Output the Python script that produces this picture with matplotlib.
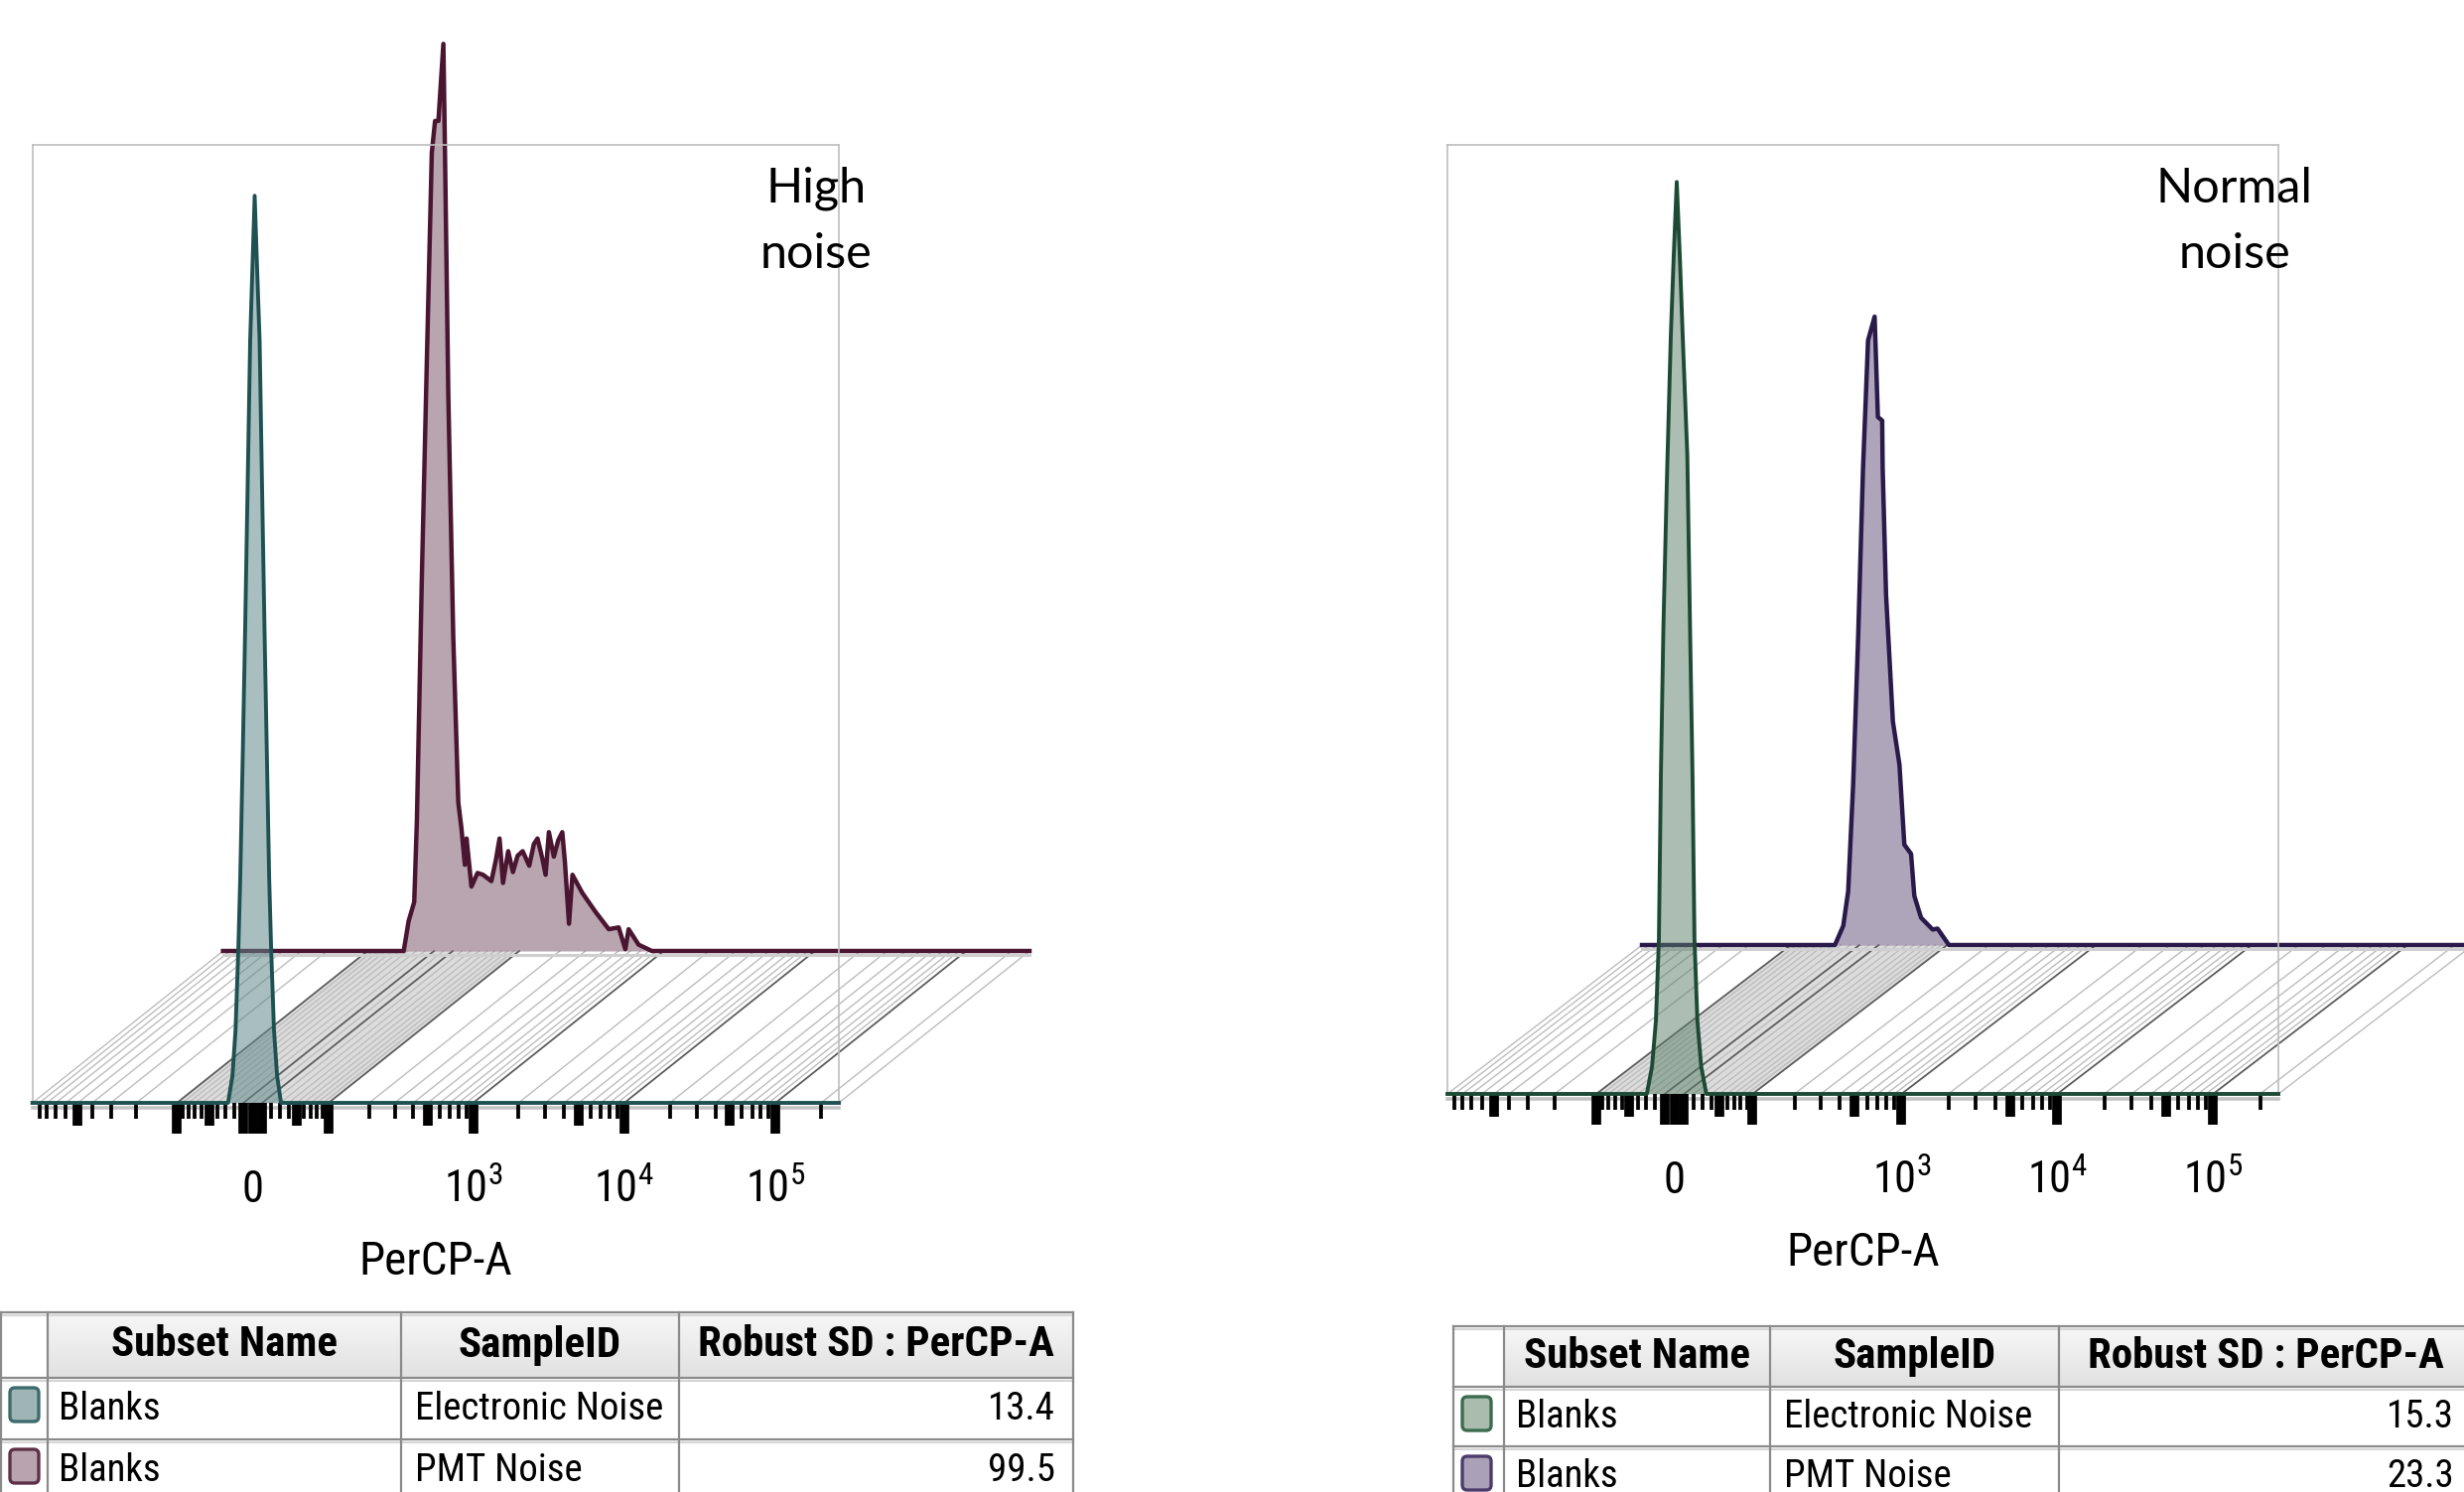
import numpy as np
import matplotlib
matplotlib.use("Agg")
import matplotlib.pyplot as plt
from matplotlib import font_manager
from matplotlib.font_manager import FontProperties
from matplotlib.transforms import blended_transform_factory
from matplotlib.lines import Line2D
from matplotlib.patches import Polygon, FancyBboxPatch
from matplotlib.colors import LinearSegmentedColormap

W, H = 2482, 1503


# pick a narrow sans (the original uses a condensed UI font)
def weight_of(f):
    try:
        return int(f.weight)
    except (TypeError, ValueError):
        return {"normal": 400, "regular": 400, "medium": 500, "bold": 700}.get(str(f.weight), 400)


def pick_narrow():
    ents = font_manager.fontManager.ttflist

    def is_narrow(f):
        return ("Narrow" in f.name or "Condensed" in f.name or "Cond" in f.fname
                or str(f.stretch) in ("condensed", "semi-condensed", "extra-condensed"))
    prefs = ["Liberation Sans Narrow", "Roboto Condensed", "DejaVu Sans", "Open Sans Condensed",
             "Open Sans", "Noto Sans", "Arimo", "Roboto"]
    for p in prefs:
        reg = [f for f in ents if f.name == p and is_narrow(f) and f.style == "normal"]
        if reg:
            r = min(reg, key=lambda f: abs(weight_of(f) - 400))
            b = min(reg, key=lambda f: abs(weight_of(f) - 700))
            return r, b
    return None, None


reg_font, bold_font = pick_narrow()
if reg_font is not None:
    NARROW_R = reg_font.fname
    NARROW_B = bold_font.fname
    SIZE_K = 1.0
    plt.rcParams["mathtext.fontset"] = "custom"
    plt.rcParams["mathtext.rm"] = f"{reg_font.name}:stretch={reg_font.stretch}"
    plt.rcParams["mathtext.it"] = f"{reg_font.name}:stretch={reg_font.stretch}"
    plt.rcParams["mathtext.bf"] = f"{reg_font.name}:stretch={reg_font.stretch}"
else:
    NARROW_R = font_manager.findfont("DejaVu Sans")
    NARROW_B = font_manager.findfont(FontProperties(family="DejaVu Sans", weight="bold"))
    SIZE_K = 0.8
    plt.rcParams["mathtext.fontset"] = "dejavusans"


def nfont(size, bold=False):
    return FontProperties(fname=NARROW_B if bold else NARROW_R, size=size * SIZE_K)


# ---------------- data (PerCP-A intensity, % of mode) ----------------
X_MIN, X_MAX = -1000, 262144

left_elec_x = [-1000, -27, -22, -18.6, -15.5, -13.4, -10.8, -8.2, -5.5, -2.8, -0.4, 2,
               4.6, 7.3, 9.9, 12.6, 15.2, 17.6, 19.8, 23, 26.5, 31, 262144]
left_elec_y = [0, 0, 3, 8, 17, 25, 38, 52, 68, 84, 92, 100,
               92, 84, 68, 52, 38, 25, 17, 8, 3, 0, 0]

left_pmt_x = [-1000, -44.9, -38.8, -32.1, -29.0, -23.4, -17.9, -12.4, -8.9, -5.3, 0, 1.7,
              5.3, 10.6, 16.0, 19.5, 23.3, 25.2, 30.8, 38, 44.9, 55.8, 62, 67.4, 72.6, 80.8,
              88.7, 97, 106.5, 119.8, 130, 138.3, 150, 158.5, 167.3, 181.6, 195, 208.1, 217.1,
              231.7, 244.7, 285.8, 351.6, 431, 502, 556, 585, 681, 835, 262144]
left_pmt_y = [0, 0, 3.3, 5.4, 14.4, 41, 64.7, 88, 91.5, 91.5, 100, 88,
              61, 34.5, 16.4, 13.5, 9.5, 12.4, 7.1, 8.6, 8.4, 7.7, 10, 12.4, 7.5, 11,
              8.7, 10.5, 11, 9.4, 11.8, 12.4, 10.2, 8.4, 13.1, 10.4, 12.2, 13.1, 9.8,
              3.0, 8.4, 6.4, 4.3, 2.4, 2.6, 0.2, 2.4, 0.7, 0, 0]

right_elec_x = [-1000, -29.4, -23.6, -19.4, -16.2, -14.1, -11.5, -7.9, -3.8, -0.7, 2.4,
                5.5, 8.6, 13.4, 16.3, 18.9, 21.0, 24.2, 28.4, 34.2, 262144]
right_elec_y = [0, 0, 3, 8, 17, 35, 51, 67, 83, 92, 100,
                92, 83, 70, 51, 35, 17, 8, 3, 0, 0]

right_pmt_x = [-1000, -36.8, -27.3, -21.9, -16.6, -11.3, -6.2, -1.0, 5.8, 9.2, 13.7, 14.2,
               17.8, 25.2, 32.5, 38.2, 46.3, 50.4, 59.2, 75.9, 83.6, 103.2, 262144]
right_pmt_y = [0, 0, 2.1, 5.9, 17.5, 33.7, 52.3, 66.3, 68.9, 57.9, 57.5, 52.3,
               38.4, 24.5, 19.8, 11, 10, 5.4, 3.0, 1.7, 1.8, 0, 0]

tick_values = [0, 1e3, 1e4, 1e5]
tick_labels = ["0", r"$10^3$", r"$10^4$", r"$10^5$"]
axis_label = "PerCP-A"
panel_notes = ["High\nnoise", "Normal\nnoise"]

table_header = ["Subset Name", "SampleID", "Robust SD : PerCP-A"]
subset_names = ["Blanks", "Blanks"]
sample_ids = ["Electronic Noise", "PMT Noise"]
left_sd = [13.4, 99.5]
right_sd = [15.3, 23.3]

# ---------------- scale (biexponential-like display) ----------------
W_LIN = 70.0


def fwd(x):
    return np.arcsinh(np.asarray(x, dtype=float) / W_LIN) / np.log(10)


def inv(y):
    return W_LIN * np.sinh(np.asarray(y, dtype=float) * np.log(10))


big_ticks = [-100, -10, 0, 10, 100, 1e3, 1e4, 1e5]
mid_ticks = [-500, -50, 50, 500, 5e3, 5e4]
all_ticks = sorted(set([-m * 10 ** k for k in (1, 2) for m in range(1, 10)]
                       + [m * 10 ** k for k in range(1, 6) for m in range(1, 10)
                          if m * 10 ** k <= X_MAX] + [0]))
small_ticks = [v for v in all_ticks if v not in big_ticks and v not in mid_ticks]
grid_dark = [-100, -10, 10, 100, 1e3, 1e4, 1e5]
grid_light = [v for v in all_ticks + [X_MIN, X_MAX] if v not in grid_dark]

fig = plt.figure(figsize=(W / 100, H / 100), dpi=100)


def px_axes(x0, y_top, x1, y_bot, z):
    ax = fig.add_axes([x0 / W, 1 - y_bot / H, (x1 - x0) / W, (y_bot - y_top) / H], zorder=z)
    ax.patch.set_visible(False)
    return ax


def setup(ax, ytop):
    ax.set_xscale("function", functions=(fwd, inv))
    ax.set_xlim(X_MIN, X_MAX)
    ax.set_ylim(0, ytop)
    ax.set_yticks([])


def hist(ax, x, y, line, fill, alpha, lw):
    ax.fill_between(x, y, 0, color=fill, alpha=alpha, lw=0, zorder=2, clip_on=False)
    ax.plot(x, y, color=line, lw=lw, zorder=3, clip_on=False, solid_joinstyle="round")


def panel(front_box, shift, ytop, front, back, note, note_xy, label_y):
    x0, y_top, x1, y_bot = front_box
    dx, dy = shift
    ax_b = px_axes(x0 + dx, y_top + dy, x1 + dx, y_bot + dy, 1)
    ax_f = px_axes(x0, y_top, x1, y_bot, 2)
    for ax in (ax_b, ax_f):
        setup(ax, ytop)
    ax_b.axis("off")

    # floor between front and back baselines
    to_fig = fig.transFigure.inverted()

    def pt(ax, v):
        return to_fig.transform(ax.transData.transform((v, 0)))

    band = [pt(ax_f, -100), pt(ax_f, 100), pt(ax_b, 100), pt(ax_b, -100)]
    fig.add_artist(Polygon(band, closed=True, transform=fig.transFigure,
                           facecolor="#dcdcdc", edgecolor="none", zorder=-3))
    for v in grid_light:
        a, b = pt(ax_f, v), pt(ax_b, v)
        fig.add_artist(Line2D([a[0], b[0]], [a[1], b[1]], transform=fig.transFigure,
                              color="#bdbdbd", lw=1.0, zorder=-2))
    for v in grid_dark:
        a, b = pt(ax_f, v), pt(ax_b, v)
        fig.add_artist(Line2D([a[0], b[0]], [a[1], b[1]], transform=fig.transFigure,
                              color="#5c5c5c", lw=1.3, zorder=-1))

    # baseline shadows
    ax_b.axhline(-0.45, color="#cfcfcf", lw=2.2, clip_on=False, zorder=1)
    ax_f.axhline(-0.5, color="#c4c4c4", lw=2.6, clip_on=False, zorder=1)

    hist(ax_b, *back)
    hist(ax_f, *front)

    # frame
    for side in ("top", "left", "right"):
        ax_f.spines[side].set_color("#bdbdbd")
        ax_f.spines[side].set_linewidth(1.2)
    ax_f.spines["bottom"].set_visible(False)

    # tick marks below the front baseline
    hpx = y_bot - y_top
    tr = blended_transform_factory(ax_f.transData, ax_f.transAxes)
    ax_f.vlines(small_ticks, -16 / hpx, 0, transform=tr, color="black", lw=2.7,
                clip_on=False, capstyle="butt")
    ax_f.vlines(mid_ticks, -23 / hpx, 0, transform=tr, color="black", lw=7,
                clip_on=False, capstyle="butt")
    ax_f.vlines(big_ticks, -31 / hpx, 0, transform=tr, color="black", lw=7,
                clip_on=False, capstyle="butt")

    ax_f.set_xticks(tick_values, labels=tick_labels)
    ax_f.xaxis.set_minor_locator(matplotlib.ticker.NullLocator())
    ax_f.tick_params(axis="x", length=0, pad=72)
    for lab in ax_f.get_xticklabels():
        lab.set_fontproperties(nfont(32))
        lab.set_va("baseline")
    ax_f.set_xlabel(axis_label, fontproperties=nfont(34))
    ax_f.xaxis.set_label_coords(0.5, label_y)
    ax_f.xaxis.label.set_va("center")

    fig.text(note_xy[0] / W, 1 - note_xy[1] / H, note, ha="center", va="center",
             fontsize=35, family="Lato", linespacing=1.6)


panel((32.7, 146, 845, 1111), (192, -153), 105.6,
      (left_elec_x, left_elec_y, "#1f5152", "#63898a", 0.55, 2.8),
      (left_pmt_x, left_pmt_y, "#4a1530", "#8a6a7c", 0.6, 3.2),
      panel_notes[0], (822, 223), -0.166)
panel((1458, 145.6, 2295, 1102), (196, -150), 104.1,
      (right_elec_x, right_elec_y, "#1d4a35", "#5a7f68", 0.5, 2.8),
      (right_pmt_x, right_pmt_y, "#2a1a4a", "#7b6a8f", 0.6, 3.2),
      panel_notes[1], (2251, 223), -0.167)

header_cmap = LinearSegmentedColormap.from_list("hdr", ["#f7f7f7", "#e1e1e1"])


def draw_table(x_edges, y_edges, sds, swatches):
    x0, x1 = x_edges[0], x_edges[-1]
    y0, y1 = y_edges[0], y_edges[-1]
    tax = fig.add_axes([x0 / W, 1 - y1 / H, (x1 - x0) / W, (y1 - y0) / H], zorder=3)
    tax.imshow(np.linspace(0, 1, 50).reshape(-1, 1), cmap=header_cmap, aspect="auto",
               extent=[x_edges[1], x1, y_edges[1], y0])
    tax.set_xlim(x0, x1)
    tax.set_ylim(y1, y0)
    tax.axis("off")
    for y in y_edges[:-1]:
        tax.plot([x0, x1], [y + 3, y + 3], color="#d6d6d6", lw=1.5, clip_on=False)
        tax.plot([x0, x1], [y, y], color="#8a8a8a", lw=1.6, clip_on=False)
    for x in x_edges:
        tax.plot([x, x], [y0, y1], color="#8a8a8a", lw=1.6, clip_on=False)
    hy = (y_edges[0] + y_edges[1]) / 2
    for i, name in enumerate(table_header):
        tax.text((x_edges[i + 1] + x_edges[i + 2]) / 2, hy, name, ha="center", va="center",
                 fontproperties=nfont(31, bold=True))
    for r in range(len(sds)):
        ya, yb = y_edges[r + 1], y_edges[r + 2]
        yc = (ya + yb) / 2
        line, fill = swatches[r]
        tax.add_patch(FancyBboxPatch((x_edges[0] + 9, ya + 10), 29, 34,
                                     boxstyle="round,pad=0,rounding_size=5",
                                     facecolor=fill, edgecolor=line, lw=2.4))
        tax.text(x_edges[1] + 12, yc, subset_names[r], ha="left", va="center",
                 fontproperties=nfont(28))
        tax.text(x_edges[2] + 14, yc, sample_ids[r], ha="left", va="center",
                 fontproperties=nfont(28))
        tax.text(x_edges[4] - 18, yc, f"{sds[r]:.1f}", ha="right", va="center",
                 fontproperties=nfont(28))


draw_table([1, 47.5, 404, 684, 1081], [1322, 1388, 1450, 1512], left_sd,
           [("#3d6b6b", "#9fb5b5"), ("#5e3048", "#b9a3ae")])
draw_table([1464, 1515, 1783, 2074, 2490], [1336, 1397, 1457, 1517], right_sd,
           [("#3c6b4f", "#a9bcae"), ("#4d3c6b", "#aaa0b8")])

fig.savefig("out.png", dpi=100)
